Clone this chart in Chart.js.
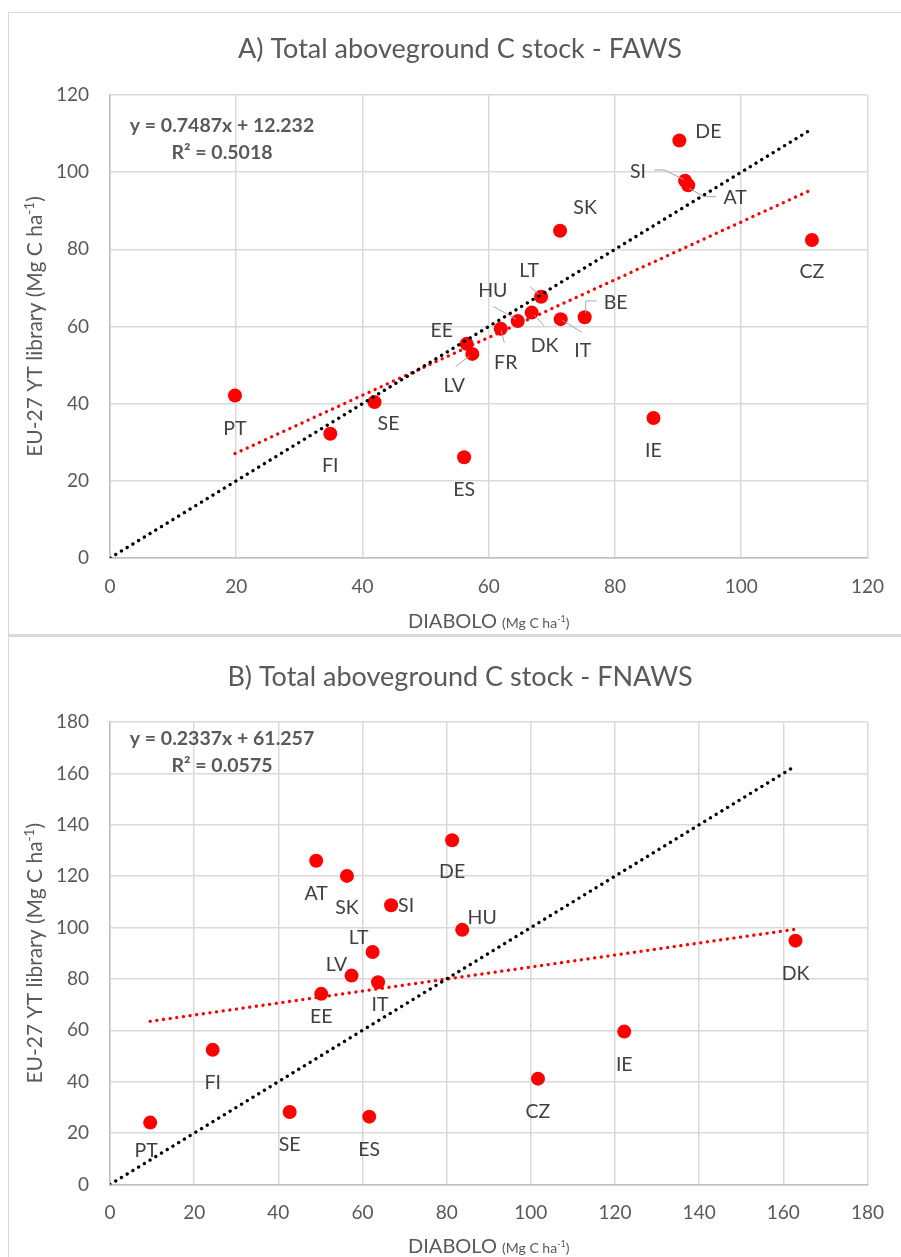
<!DOCTYPE html>
<html>
<head>
<meta charset="UTF-8">
<title>Total aboveground C stock</title>
<script src="https://cdn.jsdelivr.net/npm/chart.js@4.4.0/dist/chart.umd.min.js"></script>
<style>
  body { margin: 0; background: #fff; width: 901px; height: 1257px; overflow: hidden; position: relative; }
  .box { position: absolute; left: 8px; width: 900px; border: 1px solid #d9d9d9; box-sizing: border-box; }
  #boxA { top: 12px; height: 624px; border-bottom-width: 2px; }
  #boxB { top: 636px; height: 640px; }
  canvas { position: absolute; left: 0; }
  #chartA { top: 0; }
  #chartB { top: 636px; }
</style>
</head>
<body>
<div class="box" id="boxA"></div>
<div class="box" id="boxB"></div>
<canvas id="chartA" width="901" height="636"></canvas>
<canvas id="chartB" width="901" height="621"></canvas>

<script>
// ---- data: A) FAWS
var countriesA = ['DE', 'SI', 'AT', 'SK', 'CZ', 'LT', 'BE', 'IT', 'DK', 'HU', 'FR', 'EE', 'LV', 'SE', 'FI', 'ES', 'PT', 'IE'];
var diaboloA   = [90.2, 91.1, 91.6, 71.3, 111.2, 68.3, 75.2, 71.4, 66.8, 64.6, 61.9, 56.5, 57.4, 41.9, 34.9, 56.1, 19.8, 86.1];
var eu27A      = [108.2, 97.8, 96.6, 84.8, 82.4, 67.7, 62.4, 61.9, 63.6, 61.4, 59.4, 55.5, 52.9, 40.4, 32.2, 26.1, 42.1, 36.3];
var slopeA = 0.7487, interceptA = 12.232, r2A = '0.5018';

// ---- data: B) FNAWS
var countriesB = ['AT', 'SK', 'SI', 'DE', 'HU', 'LT', 'LV', 'IT', 'EE', 'DK', 'IE', 'CZ', 'PT', 'FI', 'SE', 'ES'];
var diaboloB   = [49.0, 56.3, 66.8, 81.3, 83.7, 62.4, 57.4, 63.7, 50.2, 162.9, 122.2, 101.7, 9.55, 24.4, 42.7, 61.6];
var eu27B      = [126.0, 120.1, 108.7, 134.0, 99.1, 90.5, 81.3, 78.7, 74.2, 94.9, 59.5, 41.2, 24.1, 52.4, 28.2, 26.4];
var slopeB = 0.2337, interceptB = 61.257, r2B = '0.0575';

var ticksA = [0, 20, 40, 60, 80, 100, 120];
var ticksB = [0, 20, 40, 60, 80, 100, 120, 140, 160, 180];

// label placement (pixel offsets from the marker) and leader lines
var labelPosA = {
  DE: [29, -10], SI: [-47, -10], AT: [47, 12], SK: [25, -24], CZ: [0, 31], LT: [-12, -27],
  HU: [-25, -31], DK: [13, 32], IT: [22, 31], BE: [31, -15], EE: [-25, -14], FR: [5, 33],
  LV: [-18, 31], SE: [14, 21], FI: [0, 31], ES: [0, 32], PT: [0, 32], IE: [0, 32]
};
var leadersA = {
  SI: [[-30.7, -10.7], [-20.7, -10.7], [-1, -1]],
  AT: [[1, 3], [16, 11.4], [27.7, 11.4]],
  LT: [[-11.4, -10.3], [-2, -2]],
  HU: [[-24.4, -14.6], [-1.7, -2]],
  DK: [[12.6, 13.3], [2.6, 2.3]],
  IT: [[21.4, 13.3], [1.4, 1]],
  BE: [[12, -16.3], [1, -16.3], [1, -4]],
  FR: [[3.6, 13.7], [0.3, 1.7]],
  LV: [[-16.7, 12.7], [-2.7, 2]]
};
var labelPosB = {
  AT: [0, 32], SK: [0, 31], SI: [15, 0], DE: [0, 31], HU: [20, -13], LT: [-14, -15],
  LV: [-15, -12], IT: [2, 22], EE: [0, 22], DK: [0, 32], IE: [0, 32], CZ: [0, 32],
  PT: [-4, 27], FI: [0, 32], SE: [0, 32], ES: [0, 32]
};

var FONT = 'Lato, "Open Sans", sans-serif';
var GREY = '#595959';

// draws several text pieces (different sizes / raised) centred on cx, baseline y
function drawRuns(ctx, runs, cx, y) {
  var total = 0;
  runs.forEach(function (r) {
    ctx.font = (r.bold ? 'bold ' : '') + r.size + 'px ' + FONT;
    r.w = ctx.measureText(r.t).width;
    total += r.w;
  });
  var x = cx - total / 2;
  ctx.textAlign = 'left';
  ctx.textBaseline = 'alphabetic';
  runs.forEach(function (r) {
    ctx.font = (r.bold ? 'bold ' : '') + r.size + 'px ' + FONT;
    ctx.fillText(r.t, x, y + (r.dy || 0));
    x += r.w;
  });
}

var textPlugin = {
  id: 'texts',
  afterDatasetsDraw: function (chart, args, o) {
    var ctx = chart.ctx;
    var meta = chart.getDatasetMeta(2);
    ctx.save();
    // leader lines
    ctx.strokeStyle = '#a6a6a6';
    ctx.lineWidth = 1;
    o.names.forEach(function (c, i) {
      var l = o.leaders[c];
      if (!l) return;
      var p = meta.data[i];
      ctx.beginPath();
      l.forEach(function (q, k) {
        if (k === 0) ctx.moveTo(p.x + q[0], p.y + q[1]);
        else ctx.lineTo(p.x + q[0], p.y + q[1]);
      });
      ctx.stroke();
    });
    // country codes
    ctx.fillStyle = '#404040';
    ctx.font = '19.5px ' + FONT;
    ctx.textAlign = 'center';
    ctx.textBaseline = 'alphabetic';
    o.names.forEach(function (c, i) {
      var p = meta.data[i], off = o.labels[c];
      ctx.fillText(c, p.x + off[0], p.y + off[1] + 7);
    });
    ctx.restore();
  },
  afterDraw: function (chart, args, o) {
    var ctx = chart.ctx, a = chart.chartArea;
    ctx.save();
    ctx.fillStyle = GREY;
    // title
    drawRuns(ctx, [{ t: o.title, size: 27 }], 460, o.titleY);
    // equation
    drawRuns(ctx, [{ t: o.eq, size: 19.5, bold: true }], o.eqX, o.eqY);
    drawRuns(ctx, [{ t: 'R² = ' + o.r2, size: 19.5, bold: true }], o.eqX, o.eqY + 27);
    // x axis title
    drawRuns(ctx, [
      { t: 'DIABOLO ', size: 20 },
      { t: '(Mg C ha', size: 14 },
      { t: '-1', size: 9, dy: -6 },
      { t: ')', size: 14 }
    ], (a.left + a.right) / 2, o.xTitleY);
    // y axis title
    ctx.translate(35, (a.top + a.bottom) / 2);
    ctx.rotate(-Math.PI / 2);
    drawRuns(ctx, [
      { t: 'EU-27 YT library (Mg C ha', size: 21 },
      { t: '-1', size: 13.5, dy: -8 },
      { t: ')', size: 21 }
    ], 0, 7);
    ctx.restore();
  }
};

function makeChart(id, cfg) {
  var points = cfg.x.map(function (v, i) { return { x: v, y: cfg.y[i] }; });
  var xMin = Math.min.apply(null, cfg.x);
  var xMax = Math.max.apply(null, cfg.x);
  var trend = [
    { x: xMin, y: cfg.slope * xMin + cfg.intercept },
    { x: xMax, y: cfg.slope * xMax + cfg.intercept }
  ];
  var identity = [{ x: 0, y: 0 }, { x: xMax, y: xMax }];
  var maxV = cfg.ticks[cfg.ticks.length - 1];

  function dotted(data, color) {
    return {
      data: data, showLine: true, pointRadius: 0, borderColor: color,
      borderWidth: 3.3, borderDash: [0.1, 6.6], borderCapStyle: 'round', order: 0
    };
  }

  function axis(extraFit) {
    return {
      type: 'linear', min: 0, max: maxV,
      afterBuildTicks: function (s) { s.ticks = cfg.ticks.map(function (v) { return { value: v }; }); },
      grid: { color: '#d9d9d9', lineWidth: 1.5, drawTicks: false },
      border: { display: true, color: '#bfbfbf', width: 1.5 },
      ticks: { color: GREY, font: { family: FONT, size: 19 }, padding: extraFit.pad },
      afterFit: extraFit.fit
    };
  }

  return new Chart(document.getElementById(id), {
    type: 'scatter',
    data: {
      datasets: [
        dotted(identity, '#000000'),
        dotted(trend, '#ff0000'),
        { data: points, pointRadius: 7, pointHoverRadius: 7, backgroundColor: '#ff0000', borderWidth: 0, order: 1 }
      ]
    },
    options: {
      responsive: false,
      animation: false,
      devicePixelRatio: 1,
      layout: { padding: { top: cfg.top, right: 26, left: 0, bottom: 0 } },
      scales: {
        x: axis({ pad: 17, fit: function (s) { s.height = cfg.bottom; } }),
        y: axis({ pad: 21, fit: function (s) { s.width = 110; } })
      },
      plugins: {
        legend: { display: false },
        tooltip: { enabled: false },
        texts: {
          names: cfg.names, labels: cfg.labels, leaders: cfg.leaders,
          title: cfg.title, titleY: cfg.titleY,
          eq: 'y = ' + cfg.slope + 'x + ' + cfg.intercept, r2: cfg.r2,
          eqX: 222, eqY: cfg.eqY, xTitleY: cfg.xTitleY
        }
      }
    },
    plugins: [textPlugin]
  });
}

makeChart('chartA', {
  names: countriesA, x: diaboloA, y: eu27A, slope: slopeA, intercept: interceptA, r2: r2A,
  ticks: ticksA, labels: labelPosA, leaders: leadersA,
  title: 'A) Total aboveground C stock - FAWS', titleY: 58,
  top: 95, bottom: 78, eqY: 131.5, xTitleY: 628
});

makeChart('chartB', {
  names: countriesB, x: diaboloB, y: eu27B, slope: slopeB, intercept: interceptB, r2: r2B,
  ticks: ticksB, labels: labelPosB, leaders: {},
  title: 'B) Total aboveground C stock - FNAWS', titleY: 49.5,
  top: 86, bottom: 72.5, eqY: 108.5, xTitleY: 617
});
</script>
</body>
</html>
